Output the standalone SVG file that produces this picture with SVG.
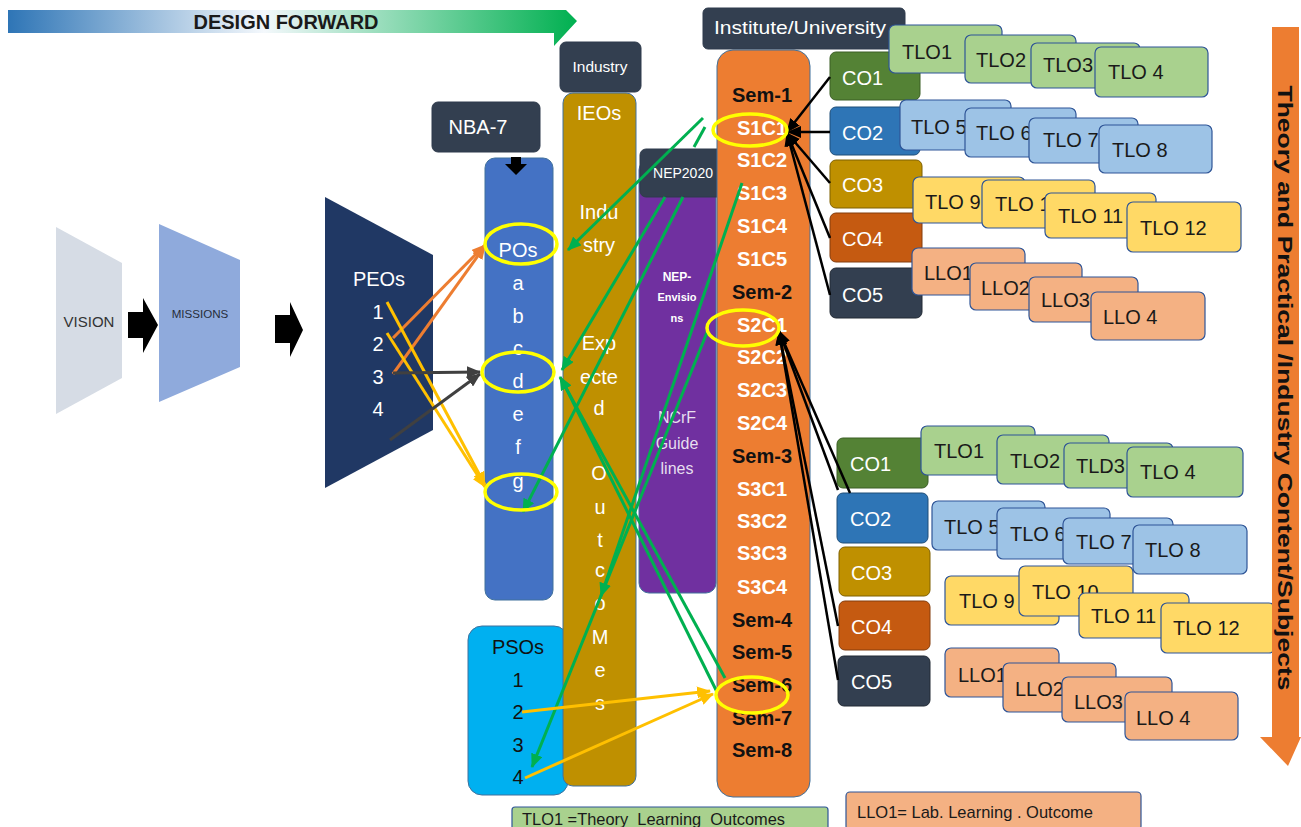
<svg xmlns="http://www.w3.org/2000/svg" width="1301" height="827" viewBox="0 0 1301 827">
<defs>
<linearGradient id="gradBanner" x1="0" y1="0" x2="1" y2="0">
<stop offset="0" stop-color="#2e75b6"/>
<stop offset="0.45" stop-color="#f4f8fc"/>
<stop offset="1" stop-color="#00b050"/>
</linearGradient>
<marker id="ag" markerUnits="userSpaceOnUse" markerWidth="14" markerHeight="12" refX="13" refY="6" orient="auto"><path d="M0,0 L14,6 L0,12 z" fill="#00b050"/></marker>
<marker id="ab" markerUnits="userSpaceOnUse" markerWidth="14" markerHeight="12" refX="13" refY="6" orient="auto"><path d="M0,0 L14,6 L0,12 z" fill="#000"/></marker>
<marker id="ay" markerUnits="userSpaceOnUse" markerWidth="14" markerHeight="12" refX="13" refY="6" orient="auto"><path d="M0,0 L14,6 L0,12 z" fill="#ffc000"/></marker>
<marker id="ao" markerUnits="userSpaceOnUse" markerWidth="14" markerHeight="12" refX="13" refY="6" orient="auto"><path d="M0,0 L14,6 L0,12 z" fill="#ed7d31"/></marker>
<marker id="ad" markerUnits="userSpaceOnUse" markerWidth="14" markerHeight="12" refX="13" refY="6" orient="auto"><path d="M0,0 L14,6 L0,12 z" fill="#404040"/></marker>
</defs>
<style>
text{font-family:"Liberation Sans",Arial,sans-serif;}
.w{fill:#fff;}
.k{fill:#111;}
.c{text-anchor:middle;}
.b{font-weight:bold;}
.dark{fill:#333f50;stroke:#2f3b4c;stroke-width:1;}
.col{stroke:#41719c;stroke-width:1;}
.tg{fill:#a9d18e;stroke:#2f5597;stroke-width:1.2;}
.tb{fill:#9dc3e6;stroke:#2f5597;stroke-width:1.2;}
.ty{fill:#ffd966;stroke:#2f5597;stroke-width:1.2;}
.tp{fill:#f4b183;stroke:#2f5597;stroke-width:1.2;}
.tl{font-size:20px;fill:#1a1a1a;}
.co{font-size:20px;fill:#fff;}
.g{stroke:#00b050;stroke-width:3;fill:none;}
.bk{stroke:#000;stroke-width:2.5;fill:none;}
.yl{stroke:#ffc000;stroke-width:3;fill:none;}
.or{stroke:#ed7d31;stroke-width:3;fill:none;}
.dg{stroke:#404040;stroke-width:3;fill:none;}
.hl{stroke:#ffff00;stroke-width:3.5;fill:none;}
.sem{font-size:20px;font-weight:bold;text-anchor:middle;}
</style>
<rect width="1301" height="827" fill="#fff"/>

<g id="banner">
<polygon points="8,10 566,10 577,21 554,46 554,33 8,33" fill="url(#gradBanner)"/>
<text x="286" y="29" class="c b" font-size="20" fill="#1a1a1a" textLength="185" lengthAdjust="spacingAndGlyphs">DESIGN FORWARD</text>
</g>

<g id="vision">
<polygon points="56,227 122,263 122,378 56,414" fill="#d6dce5"/>
<text x="89" y="327" class="c" font-size="15" fill="#333">VISION</text>
</g>
<g id="arrow1">
<polygon points="128,312 143,312 143,298 158,325 143,353 143,338 128,338" fill="#000"/>
</g>
<g id="missions">
<polygon points="159,224 240,260 240,367 159,402" fill="#8faadc"/>
<text x="200" y="318" class="c" font-size="11.6" fill="#262d3a">MISSIONS</text>
</g>
<g id="arrow2">
<polygon points="275,315 290,315 290,302 303,330 290,357 290,343 275,343" fill="#000"/>
</g>
<g id="peos">
<polygon points="325,197 433,255 433,430 325,488" fill="#203864"/>
<text x="379" y="286" class="c w" font-size="20">PEOs</text>
<text x="378" y="319" class="c w" font-size="20">1</text>
<text x="378" y="351" class="c w" font-size="20">2</text>
<text x="378" y="384" class="c w" font-size="20">3</text>
<text x="378" y="416" class="c w" font-size="20">4</text>
</g>

<g id="pos">
<rect x="485" y="158" width="68" height="442" rx="10" fill="#4472c4" class="col"/>
<text x="518" y="257" class="c w" font-size="20">POs</text>
<text x="518" y="290" class="c w" font-size="20">a</text>
<text x="518" y="323" class="c w" font-size="20">b</text>
<text x="518" y="355" class="c w" font-size="20">c</text>
<text x="518" y="388" class="c w" font-size="20">d</text>
<text x="518" y="421" class="c w" font-size="20">e</text>
<text x="518" y="454" class="c w" font-size="20">f</text>
<text x="518" y="488" class="c w" font-size="20">g</text>
</g>
<g id="nba7">
<rect x="432" y="102" width="108" height="50" rx="6" class="dark"/>
<text x="478" y="134" class="c w" font-size="20">NBA-7</text>
<polygon points="511,157 521,157 521,164 527,164 516,175 505,164 511,164" fill="#000"/>
</g>
<g id="psos">
<rect x="468" y="626" width="100" height="169" rx="14" fill="#00b0f0" class="col"/>
<text x="518" y="654" class="c k" font-size="20">PSOs</text>
<text x="518" y="687" class="c k" font-size="20">1</text>
<text x="518" y="719" class="c k" font-size="20">2</text>
<text x="518" y="752" class="c k" font-size="20">3</text>
<text x="518" y="784" class="c k" font-size="20">4</text>
</g>

<g id="industry">
<rect x="560" y="42" width="81" height="50" rx="6" class="dark"/>
<text x="600" y="72" class="c w" font-size="14" textLength="55" lengthAdjust="spacingAndGlyphs">Industry</text>
</g>
<g id="ieos">
<rect x="563" y="93" width="73" height="693" rx="10" fill="#bf9000" class="col"/>
<text x="599" y="120" class="c w" font-size="20">IEOs</text>
<text x="599" y="219" class="c w" font-size="20">Indu</text>
<text x="599" y="252" class="c w" font-size="20">stry</text>
<text x="599" y="350" class="c w" font-size="20">Exp</text>
<text x="599" y="384" class="c w" font-size="20">ecte</text>
<text x="599" y="415" class="c w" font-size="20">d</text>
<text x="599" y="480" class="c w" font-size="20">O</text>
<text x="600" y="514" class="c w" font-size="20">u</text>
<text x="600" y="547" class="c w" font-size="20">t</text>
<text x="600" y="577" class="c w" font-size="20">c</text>
<text x="600" y="610" class="c w" font-size="20">o</text>
<text x="600" y="644" class="c w" font-size="20">M</text>
<text x="600" y="677" class="c w" font-size="20">e</text>
<text x="600" y="710" class="c w" font-size="20">s</text>
</g>
<g id="nepcol">
<rect x="639" y="160" width="77" height="433" rx="10" fill="#7030a0" class="col"/>
<text x="677" y="281" class="c w b" font-size="12">NEP-</text>
<text x="677" y="301" class="c w b" font-size="11">Envisio</text>
<text x="677" y="322" class="c w b" font-size="11">ns</text>
<text x="677" y="423" class="c w" font-size="16" fill-opacity="0.85">NCrF</text>
<text x="677" y="449" class="c w" font-size="16" fill-opacity="0.85">Guide</text>
<text x="677" y="474" class="c w" font-size="16" fill-opacity="0.85">lines</text>
</g>
<g id="nep2020">
<rect x="640" y="149" width="87" height="48" rx="6" class="dark"/>
<text x="683" y="178" class="c w" font-size="14">NEP2020</text>
</g>

<g id="institute">
<rect x="717" y="50" width="93" height="747" rx="16" fill="#ed7d31" class="col"/>
<rect x="703" y="8" width="202" height="41" rx="5" class="dark"/>
<text x="800" y="34" class="c w" font-size="19" textLength="172" lengthAdjust="spacingAndGlyphs">Institute/University</text>
<text x="762" y="102" class="sem k">Sem-1</text>
<text x="762" y="135" class="sem w">S1C1</text>
<text x="762" y="167" class="sem w">S1C2</text>
<text x="762" y="200" class="sem w">S1C3</text>
<text x="762" y="233" class="sem w">S1C4</text>
<text x="762" y="266" class="sem w">S1C5</text>
<text x="762" y="299" class="sem k">Sem-2</text>
<text x="762" y="332" class="sem w">S2C1</text>
<text x="762" y="364" class="sem w">S2C2</text>
<text x="762" y="397" class="sem w">S2C3</text>
<text x="762" y="430" class="sem w">S2C4</text>
<text x="762" y="463" class="sem k">Sem-3</text>
<text x="762" y="496" class="sem w">S3C1</text>
<text x="762" y="528" class="sem w">S3C2</text>
<text x="762" y="560" class="sem w">S3C3</text>
<text x="762" y="594" class="sem w">S3C4</text>
<text x="762" y="627" class="sem k">Sem-4</text>
<text x="762" y="659" class="sem k">Sem-5</text>
<text x="762" y="692" class="sem k">Sem-6</text>
<text x="762" y="725" class="sem k">Sem-7</text>
<text x="762" y="757" class="sem k">Sem-8</text>
</g>

<g id="co-group-1">
<rect x="830" y="52" width="90" height="48" rx="6" fill="#548235" stroke="#3b5e25"/>
<text x="842" y="85" class="co">CO1</text>
<rect x="830" y="107" width="90" height="48" rx="6" fill="#2e75b6" stroke="#1f4e79"/>
<text x="842" y="140" class="co">CO2</text>
<rect x="830" y="160" width="92" height="48" rx="6" fill="#bf9000" stroke="#7f6000"/>
<text x="842" y="192" class="co">CO3</text>
<rect x="830" y="213" width="92" height="49" rx="6" fill="#c55a11" stroke="#843c0c"/>
<text x="842" y="246" class="co">CO4</text>
<rect x="830" y="268" width="92" height="50" rx="6" fill="#333f50" stroke="#222a35"/>
<text x="842" y="302" class="co">CO5</text>
</g>
<g id="tlo-group-1">
<rect x="889" y="25" width="113" height="48" rx="6" class="tg"/><text x="902" y="59" class="tl">TLO1</text>
<rect x="965" y="35" width="111" height="48" rx="6" class="tg"/><text x="976" y="67" class="tl">TLO2</text>
<rect x="1031" y="43" width="109" height="45" rx="6" class="tg"/><text x="1043" y="72" class="tl">TLO3</text>
<rect x="1095" y="47" width="113" height="50" rx="6" class="tg"/><text x="1108" y="79" class="tl">TLO 4</text>
<rect x="900" y="100" width="111" height="50" rx="6" class="tb"/><text x="911" y="134" class="tl">TLO 5</text>
<rect x="965" y="108" width="111" height="49" rx="6" class="tb"/><text x="976" y="140" class="tl">TLO 6</text>
<rect x="1029" y="118" width="109" height="45" rx="6" class="tb"/><text x="1043" y="147" class="tl">TLO 7</text>
<rect x="1099" y="125" width="113" height="48" rx="6" class="tb"/><text x="1112" y="157" class="tl">TLO 8</text>
<rect x="913" y="177" width="112" height="46" rx="6" class="ty"/><text x="925" y="209" class="tl">TLO 9</text>
<rect x="982" y="180" width="113" height="48" rx="6" class="ty"/><text x="995" y="211" class="tl">TLO 10</text>
<rect x="1045" y="193" width="111" height="45" rx="6" class="ty"/><text x="1058" y="223" class="tl">TLO 11</text>
<rect x="1127" y="202" width="114" height="50" rx="6" class="ty"/><text x="1140" y="235" class="tl">TLO 12</text>
<rect x="912" y="248" width="113" height="47" rx="6" class="tp"/><text x="924" y="280" class="tl">LLO1</text>
<rect x="970" y="263" width="112" height="47" rx="6" class="tp"/><text x="981" y="295" class="tl">LLO2</text>
<rect x="1029" y="277" width="109" height="45" rx="6" class="tp"/><text x="1041" y="307" class="tl">LLO3</text>
<rect x="1091" y="292" width="114" height="48" rx="6" class="tp"/><text x="1103" y="324" class="tl">LLO 4</text>
</g>

<g id="co-group-2">
<rect x="837" y="438" width="91" height="50" rx="6" fill="#548235" stroke="#3b5e25"/>
<text x="850" y="471" class="co">CO1</text>
<rect x="837" y="493" width="91" height="50" rx="6" fill="#2e75b6" stroke="#1f4e79"/>
<text x="850" y="526" class="co">CO2</text>
<rect x="839" y="547" width="91" height="49" rx="6" fill="#bf9000" stroke="#7f6000"/>
<text x="851" y="580" class="co">CO3</text>
<rect x="839" y="601" width="91" height="49" rx="6" fill="#c55a11" stroke="#843c0c"/>
<text x="851" y="634" class="co">CO4</text>
<rect x="838" y="656" width="92" height="50" rx="6" fill="#333f50" stroke="#222a35"/>
<text x="851" y="689" class="co">CO5</text>
</g>
<g id="tlo-group-2">
<rect x="921" y="426" width="114" height="49" rx="6" class="tg"/><text x="934" y="458" class="tl">TLO1</text>
<rect x="997" y="435" width="112" height="49" rx="6" class="tg"/><text x="1010" y="468" class="tl">TLO2</text>
<rect x="1064" y="443" width="109" height="45" rx="6" class="tg"/><text x="1076" y="473" class="tl">TLD3</text>
<rect x="1127" y="447" width="116" height="50" rx="6" class="tg"/><text x="1140" y="479" class="tl">TLO 4</text>
<rect x="932" y="501" width="113" height="49" rx="6" class="tb"/><text x="944" y="534" class="tl">TLO 5</text>
<rect x="997" y="508" width="113" height="51" rx="6" class="tb"/><text x="1010" y="541" class="tl">TLO 6</text>
<rect x="1063" y="518" width="110" height="46" rx="6" class="tb"/><text x="1076" y="549" class="tl">TLO 7</text>
<rect x="1133" y="525" width="114" height="49" rx="6" class="tb"/><text x="1145" y="557" class="tl">TLO 8</text>
<rect x="945" y="576" width="114" height="49" rx="6" class="ty"/><text x="959" y="608" class="tl">TLO 9</text>
<rect x="1019" y="566" width="114" height="50" rx="6" class="ty"/><text x="1032" y="599" class="tl">TLO 10</text>
<rect x="1079" y="593" width="110" height="45" rx="6" class="ty"/><text x="1091" y="623" class="tl">TLO 11</text>
<rect x="1161" y="603" width="114" height="50" rx="6" class="ty"/><text x="1173" y="635" class="tl">TLO 12</text>
<rect x="945" y="648" width="114" height="49" rx="6" class="tp"/><text x="958" y="682" class="tl">LLO1</text>
<rect x="1003" y="663" width="113" height="49" rx="6" class="tp"/><text x="1015" y="696" class="tl">LLO2</text>
<rect x="1062" y="677" width="110" height="45" rx="6" class="tp"/><text x="1074" y="709" class="tl">LLO3</text>
<rect x="1125" y="692" width="113" height="48" rx="6" class="tp"/><text x="1136" y="725" class="tl">LLO 4</text>
</g>

<g id="side-arrow">
<polygon points="1272,27 1299,27 1299,737 1301,737 1288,766 1260,737 1272,737" fill="#ed7d31"/>
<text transform="translate(1278,388) rotate(90)" class="c b" font-size="20" fill="#111" textLength="605" lengthAdjust="spacingAndGlyphs">Theory and Practical /Industry Content/Subjects</text>
</g>

<g id="legend-tlo">
<rect x="512" y="807" width="316" height="24" rx="3" fill="#a9d18e" stroke="#2f5597" stroke-width="1.2"/>
<text x="522" y="825" font-size="17" fill="#1a1a1a" textLength="263" lengthAdjust="spacingAndGlyphs" xml:space="preserve">TLO1 =Theory  Learning  Outcomes</text>
</g>
<g id="legend-llo">
<rect x="846" y="792" width="295" height="38" rx="4" fill="#f4b183" stroke="#2f5597" stroke-width="1.2"/>
<text x="857" y="818" font-size="17" fill="#1a1a1a" textLength="236" lengthAdjust="spacingAndGlyphs">LLO1= Lab. Learning . Outcome</text>
</g>

<g id="connectors">
<line x1="393" y1="338" x2="485" y2="245" class="or" marker-end="url(#ao)"/>
<line x1="393" y1="374" x2="485" y2="246" class="or" marker-end="url(#ao)"/>
<line x1="387" y1="302" x2="485" y2="485" class="yl" marker-end="url(#ay)"/>
<line x1="387" y1="333" x2="485" y2="487" class="yl" marker-end="url(#ay)"/>
<line x1="393" y1="373" x2="480" y2="372" class="dg" marker-end="url(#ad)"/>
<line x1="390" y1="440" x2="480" y2="374" class="dg" marker-end="url(#ad)"/>
<line x1="703" y1="118" x2="568" y2="250" class="g" marker-end="url(#ag)"/>
<line x1="705" y1="127" x2="694" y2="147" class="g"/>
<line x1="665" y1="197" x2="562" y2="370" class="g" marker-end="url(#ag)"/>
<line x1="683" y1="197" x2="523" y2="512" class="g" marker-end="url(#ag)"/>
<line x1="742" y1="183" x2="601" y2="596" class="g" marker-end="url(#ag)"/>
<line x1="708" y1="330" x2="532" y2="767" class="g" marker-end="url(#ag)"/>
<line x1="725" y1="678" x2="560" y2="377" class="g" marker-end="url(#ag)"/>
<line x1="717" y1="692" x2="562" y2="380" class="g"/>
<line x1="522" y1="712" x2="710" y2="691" class="yl" marker-end="url(#ay)"/>
<line x1="525" y1="778" x2="713" y2="694" class="yl" marker-end="url(#ay)"/>
<line x1="830" y1="77" x2="787" y2="132" class="bk" marker-end="url(#ab)"/>
<line x1="830" y1="132" x2="788" y2="132" class="bk" marker-end="url(#ab)"/>
<line x1="830" y1="183" x2="787" y2="133" class="bk" marker-end="url(#ab)"/>
<line x1="830" y1="238" x2="787" y2="133" class="bk" marker-end="url(#ab)"/>
<line x1="830" y1="295" x2="787" y2="133" class="bk" marker-end="url(#ab)"/>
<line x1="838" y1="490" x2="779" y2="331" class="bk" marker-end="url(#ab)"/>
<line x1="850" y1="493" x2="779" y2="331" class="bk" marker-end="url(#ab)"/>
<line x1="838" y1="626" x2="779" y2="332" class="bk" marker-end="url(#ab)"/>
<line x1="838" y1="680" x2="779" y2="332" class="bk" marker-end="url(#ab)"/>
</g>

<g id="highlights">
<ellipse cx="521" cy="244" rx="36" ry="20" class="hl"/>
<ellipse cx="518" cy="372" rx="36" ry="20" class="hl"/>
<ellipse cx="521" cy="492" rx="36" ry="18" class="hl"/>
<ellipse cx="750" cy="130" rx="37" ry="16" class="hl"/>
<ellipse cx="743" cy="328" rx="36" ry="18" class="hl"/>
<ellipse cx="752" cy="695" rx="36" ry="18" class="hl"/>
</g>
</svg>
